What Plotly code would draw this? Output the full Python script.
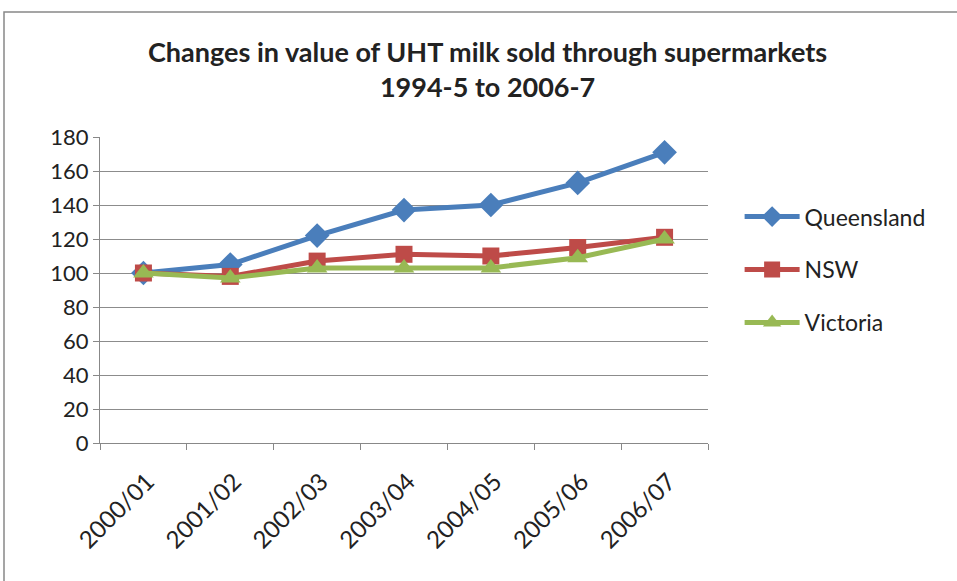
import plotly.graph_objects as go

categories = ["2000/01", "2001/02", "2002/03", "2003/04", "2004/05", "2005/06", "2006/07"]
queensland = [100, 105, 122, 137, 140, 153, 171]
nsw = [100, 98, 107, 111, 110, 115, 121]
victoria = [100, 97, 103, 103, 103, 109, 120]
y_ticks = [0, 20, 40, 60, 80, 100, 120, 140, 160, 180]

FONT = "Lato, Open Sans, sans-serif"

series = [
    ("Queensland", queensland, "#4a7ebb", "diamond", 19),
    ("NSW", nsw, "#be4b48", "square", 17),
    ("Victoria", victoria, "#98b954", "triangle-up", 18),
]

fig = go.Figure()
for name, vals, color, sym, size in series:
    fig.add_trace(go.Scatter(
        x=categories, y=vals, name=name, mode="lines+markers",
        line=dict(color=color, width=5),
        marker=dict(symbol=sym, size=size, color=color),
        legendgroup=name,
    ))

fig.update_layout(
    width=957, height=581,
    margin=dict(l=100, r=249, t=137, b=138, autoexpand=False),
    paper_bgcolor="white", plot_bgcolor="white",
    font=dict(family=FONT, size=22, color="#222"),
    showlegend=True,
    legend=dict(x=1.052, y=0.81, xanchor="left", yanchor="top",
                font=dict(size=23, family=FONT, color="#222"),
                itemwidth=55,
                tracegroupgap=20, bgcolor="rgba(0,0,0,0)"),
    xaxis=dict(
        type="category", showgrid=False, showline=True, linecolor="#888",
        linewidth=1, ticks="outside", tickson="boundaries", ticklen=6,
        tickcolor="#888", tickangle=-45, range=[-0.5, 6.5], automargin=False,
        ticklabelstandoff=14, ticklabelshift=4,
        tickfont=dict(size=24, family=FONT, color="#222"),
    ),
    yaxis=dict(
        range=[0, 180], tickvals=y_ticks, showgrid=True, gridcolor="#8c8c8c",
        gridwidth=1, showline=True, linecolor="#888", linewidth=1,
        ticks="outside", ticklen=6, tickcolor="#888", zeroline=False,
        automargin=False,
        tickfont=dict(size=22, family=FONT, color="#222"),
    ),
    shapes=[dict(type="rect", xref="paper", yref="paper",
                 x0=(4 - 100) / 608, x1=(970 - 100) / 608,
                 y0=(443 - 600) / 306, y1=(443 - 12) / 306,
                 line=dict(color="#888", width=1.5), layer="below")],
    annotations=[dict(
        text="<b>Changes in value of UHT milk sold through supermarkets</b><br><b>1994-5 to 2006-7</b>",
        xref="paper", yref="paper", x=(487 - 100) / 608, y=(443 - 33) / 306,
        xanchor="center", yanchor="top", showarrow=False, align="center",
        font=dict(size=27, family=FONT, color="#222"),
    )],
)

fig.write_html("out.html", config={"displayModeBar": False},
               post_script="document.body.style.margin='0px';")
